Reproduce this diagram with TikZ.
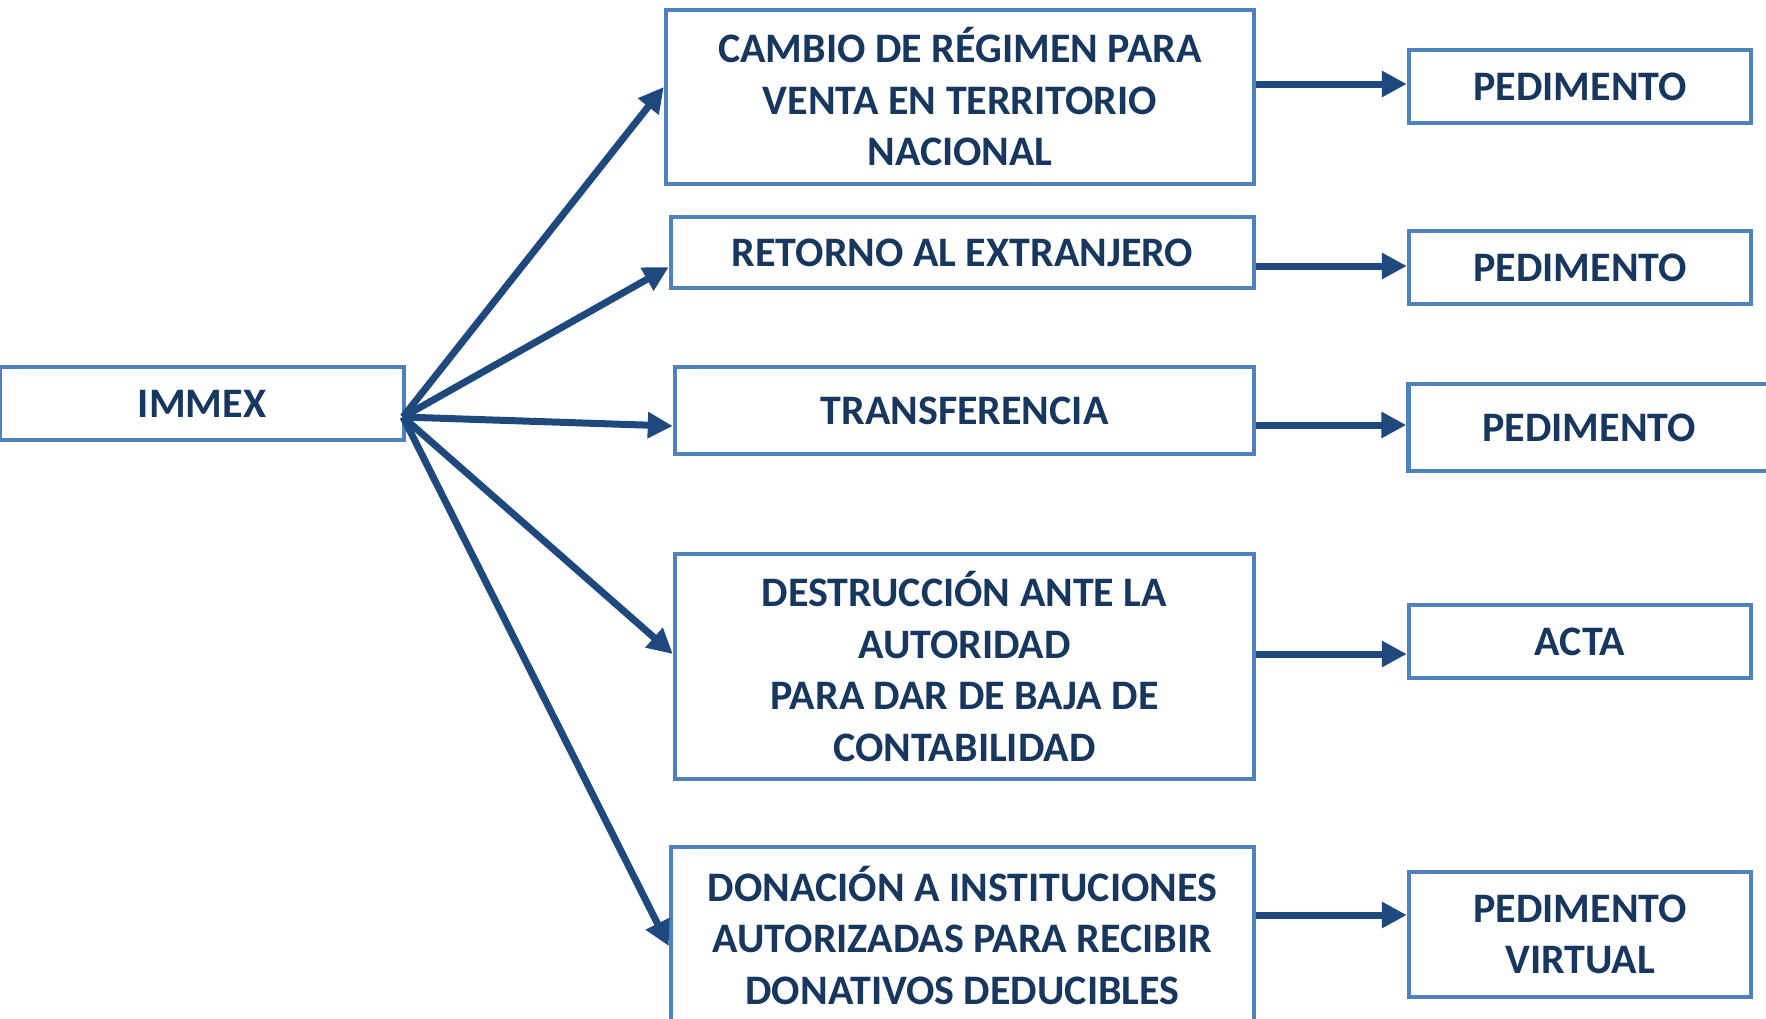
\documentclass[tikz,border=0pt]{standalone}
\usepackage{fontspec}
\setmainfont{Carlito}
\usetikzlibrary{arrows.meta}
\definecolor{boxblue}{HTML}{4F81BD}
\definecolor{txtnavy}{HTML}{17375E}
\definecolor{arrblue}{HTML}{1F497D}
\begin{document}
\begin{tikzpicture}[x=1pt,y=-1pt,
  box/.style={draw=boxblue,line width=4.5pt,fill=white,rectangle,inner sep=0pt,
    align=center,text=txtnavy,font=\fontsize{42}{51.5}\selectfont\bfseries},
  arr/.style={draw=arrblue,line width=7pt,-{Triangle[length=25pt,width=25pt]}}]
\useasboundingbox (0,0) rectangle (1766,1018);
\clip (0,0) rectangle (1766,1018);
\node[box,minimum width=404pt,minimum height=73pt] (immex) at (202,403.5) {IMMEX};
\node[box,minimum width=588pt,minimum height=174pt] (b1) at (960,97) {CAMBIO DE RÉGIMEN PARA\\VENTA EN TERRITORIO\\NACIONAL};
\node[box,minimum width=583pt,minimum height=71pt] (b2) at (962.5,252.5) {RETORNO AL EXTRANJERO};
\node[box,minimum width=579pt,minimum height=87pt] (b3) at (964.5,410.5) {TRANSFERENCIA};
\node[box,minimum width=579pt,minimum height=225pt] (b4) at (964.5,666.5) {DESTRUCCIÓN ANTE LA\\AUTORIDAD\\PARA DAR DE BAJA DE\\CONTABILIDAD};
\node[box,minimum width=583pt,minimum height=176pt] (b5) at (962.5,935) {DONACIÓN A INSTITUCIONES\\AUTORIZADAS PARA RECIBIR\\DONATIVOS DEDUCIBLES};
\node[box,minimum width=342pt,minimum height=73pt] (p1) at (1580,86.5) {PEDIMENTO};
\node[box,minimum width=342pt,minimum height=73pt] (p2) at (1580,267.5) {PEDIMENTO};
\node[box,minimum width=361pt,minimum height=87pt] (p3) at (1589,427.5) {PEDIMENTO};
\node[box,minimum width=342pt,minimum height=73pt] (acta) at (1580,641.5) {ACTA};
\node[box,minimum width=342pt,minimum height=125pt] (pv) at (1580,934.5) {PEDIMENTO\\VIRTUAL};
\coordinate (o) at (403,417);
\draw[arr] (o) -- ([yshift=10pt]b1.west);
\draw[arr] (o) -- ([yshift=-14.5pt]b2.west);
\draw[arr] (o) -- ([yshift=-15.5pt]b3.west);
\draw[arr] (o) -- ([yshift=12.5pt]b4.west);
\draw[arr] (o) -- ([yshift=-11pt]b5.west);
\draw[arr] ([yshift=13pt]b1.east) -- ([yshift=13pt]b1.east -| p1.west);
\draw[arr] ([yshift=-13.5pt]b2.east) -- ([yshift=-13.5pt]b2.east -| p2.west);
\draw[arr] ([yshift=-14.5pt]b3.east) -- ([yshift=-14.5pt]b3.east -| p3.west);
\draw[arr] ([yshift=12.5pt]b4.east) -- ([yshift=12.5pt]b4.east -| acta.west);
\draw[arr] ([yshift=20pt]b5.east) -- ([yshift=20pt]b5.east -| pv.west);
\end{tikzpicture}
\end{document}
